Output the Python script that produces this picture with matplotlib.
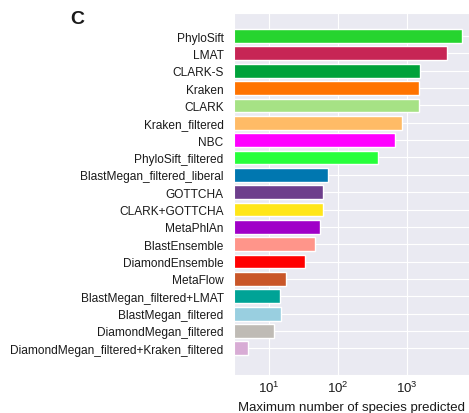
import matplotlib
matplotlib.use("Agg")
import matplotlib.pyplot as plt
import seaborn as sns

tools = ["PhyloSift", "LMAT", "CLARK-S", "Kraken", "CLARK", "Kraken_filtered",
         "NBC", "PhyloSift_filtered", "BlastMegan_filtered_liberal", "GOTTCHA",
         "CLARK+GOTTCHA", "MetaPhlAn", "BlastEnsemble", "DiamondEnsemble",
         "MetaFlow", "BlastMegan_filtered+LMAT", "BlastMegan_filtered",
         "DiamondMegan_filtered", "DiamondMegan_filtered+Kraken_filtered"]
max_species = [6100, 3790, 1510, 1460, 1475, 830, 664, 373, 72, 60, 60, 55,
               46, 33, 17.8, 14.6, 14.7, 11.7, 4.9]
colors = ["#26d42f", "#c72555", "#00a23a", "#ff7300", "#a6e285", "#ffbb66",
          "#ff00ff", "#27ff3b", "#0077b0", "#6d3e8c", "#ffe619", "#a000c8",
          "#ff958a", "#ff0000", "#c95628", "#00a396", "#99cfe0", "#bfbbb5",
          "#d8acd5"]

sns.set_style("darkgrid")
plt.rcParams['font.family'] = ['Liberation Sans', 'DejaVu Sans']
plt.rcParams['text.color'] = '#1a1a1a'
plt.rcParams['xtick.color'] = '#1a1a1a'
plt.rcParams['ytick.color'] = '#1a1a1a'
plt.rcParams['axes.labelcolor'] = '#1a1a1a'

fig = plt.figure(figsize=(4.69, 4.14), dpi=100)
ax = fig.add_axes([0.4989, 0.0918, 0.5011, 0.8744])

pos = list(range(len(tools)))
# bars start at 1 (off the left edge of the log axis)
base = 1
ax.barh(pos, [v - base for v in max_species], left=base, height=0.8,
        color=colors, edgecolor="white", linewidth=1)
ax.set_xscale("log")
ax.set_xlim(3.12, 7800)
ax.set_ylim(19.54, -1.33)
ax.set_yticks(pos)
ax.set_yticklabels(tools, fontsize=8.6)
ax.tick_params(axis="y", pad=4)
ax.tick_params(axis="x", which="both", labelsize=9.5, pad=3.5, length=0)
ax.set_xlabel("Maximum number of species predicted", fontsize=9.5, labelpad=4)

fig.text(0.149, 0.954, "C", fontsize=14, fontweight="bold", ha="left", va="center")

fig.savefig("out.png", dpi=100)
